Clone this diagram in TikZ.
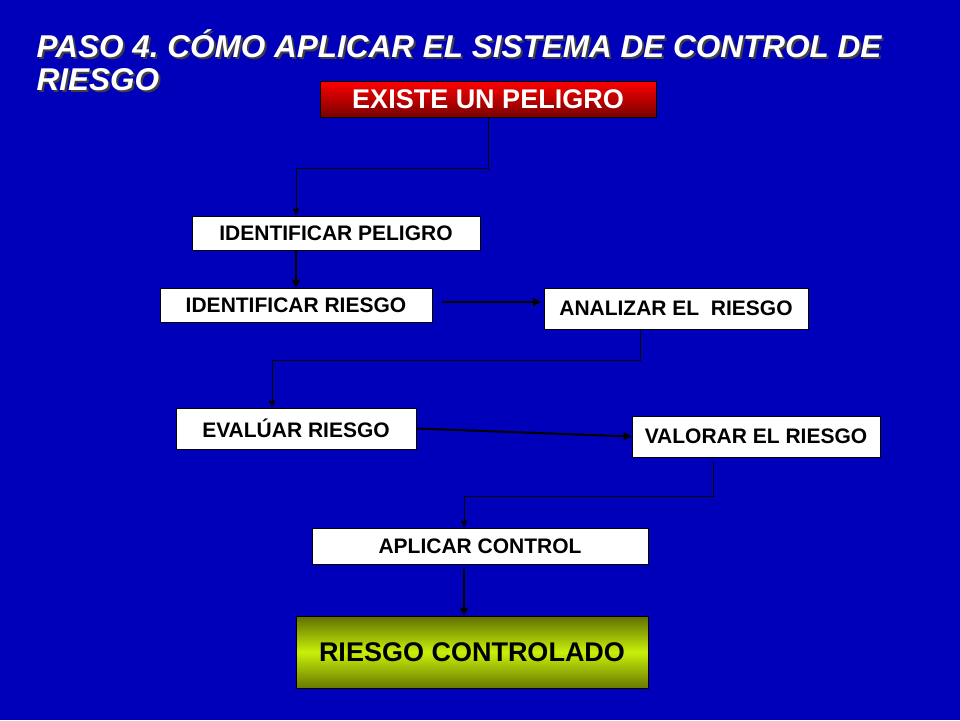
\documentclass[tikz,border=0pt]{standalone}
\usepackage{fontspec}
\setmainfont{Liberation Sans}
\usetikzlibrary{arrows.meta}
\frenchspacing
\definecolor{bgblue}{RGB}{0,0,187}
\definecolor{redtop}{RGB}{255,0,0}
\definecolor{redbot}{RGB}{120,0,0}
\definecolor{oltop}{RGB}{95,110,0}
\definecolor{olmid}{RGB}{200,240,10}
\definecolor{olbot}{RGB}{105,120,0}
\tikzset{
  wbox/.style={draw=black, fill=white, line width=0.8pt, inner sep=0pt, font=\bfseries\fontsize{21}{21}\selectfont, text=black},
  titletext/.style={anchor=base west, inner sep=0pt, font=\bfseries\itshape\fontsize{31.5}{34}\selectfont},
  thin/.style={draw=black, line width=1pt},
  thick/.style={draw=black, line width=2pt},
  tip/.style={-{Triangle[length=7pt,width=6pt]}},
  bigtip/.style={-{Triangle[length=8pt,width=8pt]}},
}
\begin{document}
\frenchspacing
\begin{tikzpicture}[x=1pt,y=-1pt]
\useasboundingbox (0,0) rectangle (960,720);
\fill[bgblue] (0,0) rectangle (960,720);
% title with shadow
\node[titletext, text=black!75] (t1s) at (38.5,59) {PASO 4. CÓMO APLICAR EL SISTEMA DE CONTROL DE};
\node[titletext, text=black!75] (t2s) at (38.5,92.5) {RIESGO};
\node[titletext, text=white] (t1) at (36.5,57) {PASO 4. CÓMO APLICAR EL SISTEMA DE CONTROL DE};
\node[titletext, text=white] (t2) at (36.5,90.5) {RIESGO};
% boxes
\node[draw=black, line width=0.8pt, top color=redtop, bottom color=redbot, minimum width=336pt, minimum height=36pt, inner sep=0pt, text=white, font=\bfseries\fontsize{27}{27}\selectfont] (e) at (488,99) {\raisebox{-1.5pt}{EXISTE UN PELIGRO}};
\node[wbox, minimum width=288pt, minimum height=34pt] (ip) at (336,233) {IDENTIFICAR PELIGRO};
\node[wbox, minimum width=272pt, minimum height=34pt] (ir) at (296,305) {IDENTIFICAR RIESGO};
\node[wbox, minimum width=264pt, minimum height=41pt] (ar) at (676,308.5) {ANALIZAR EL~~RIESGO};
\node[wbox, minimum width=240pt, minimum height=41pt] (ev) at (296,428.5) {EVALÚAR RIESGO};
\node[wbox, minimum width=248pt, minimum height=41pt] (va) at (756,436.5) {VALORAR EL RIESGO};
\node[wbox, minimum width=336pt, minimum height=36pt] (ap) at (480,546) {APLICAR CONTROL};
\node[draw=black, line width=0.8pt, top color=oltop, bottom color=olbot, middle color=olmid, minimum width=352pt, minimum height=72pt, inner sep=0pt, text=black, font=\bfseries\fontsize{27}{27}\selectfont] (rc) at (472,652) {RIESGO CONTROLADO};
% connector helper coordinates
\coordinate (c1) at (488,168);
\coordinate (c2) at (296,168);
\coordinate (c3) at (640,360);
\coordinate (c4) at (272,360);
\coordinate (v0) at (713,462);
\coordinate (c5) at (713,496);
\coordinate (c6) at (464,496);
\coordinate (irR) at (442,302);
\coordinate (arL) at (541,302);
\coordinate (apB) at (464,568);
% connectors
\draw[thin, tip] (e.south -| c1) -- (c1) -- (c2) -- (c2 |- ip.north);
\draw[thick, bigtip] (ip.south -| c2) -- (c2 |- ir.north);
\draw[thick, bigtip] (irR) -- (arL);
\draw[thin, tip] (ar.south -| c3) -- (c3) -- (c4) -- (c4 |- ev.north);
\draw[thick, bigtip] (ev.east) -- (va.west);
\draw[thin, tip] (v0) -- (c5) -- (c6) -- (c6 |- ap.north);
\draw[thick, bigtip] (apB) -- (apB |- rc.north);
\end{tikzpicture}
\end{document}
